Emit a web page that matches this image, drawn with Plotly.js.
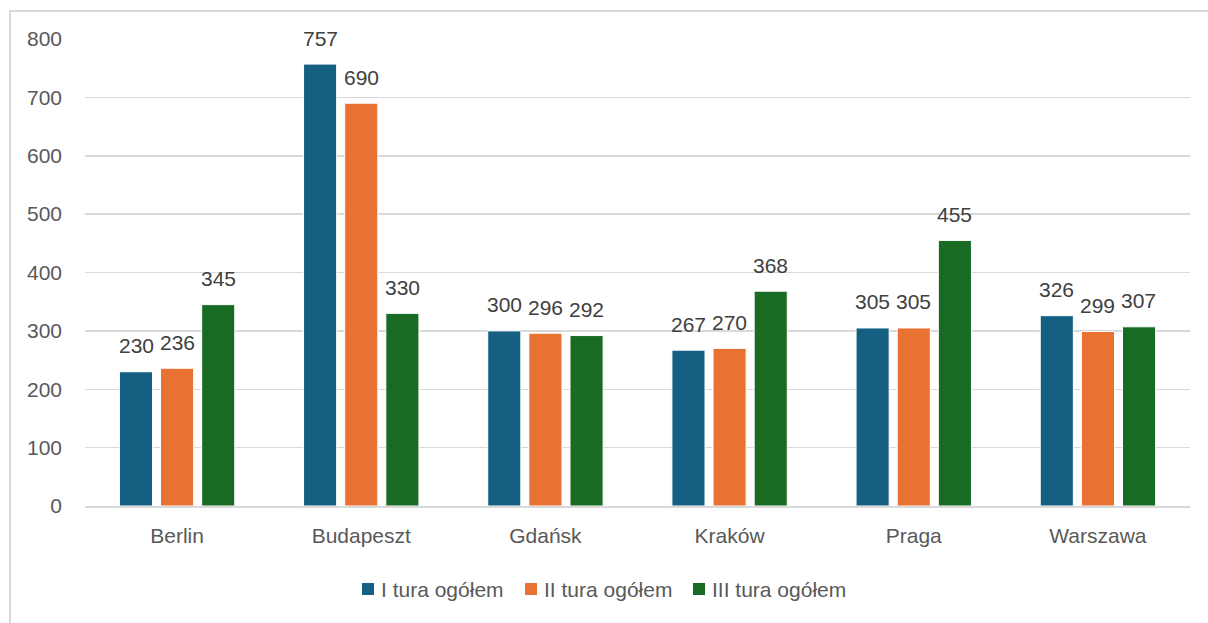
<!DOCTYPE html>
<html>
<head>
<meta charset="utf-8">
<script src="https://cdn.plot.ly/plotly-3.0.1.min.js"></script>
<style>
  html, body { margin: 0; padding: 0; background: #fff; overflow: hidden; }
  #chart { width: 1208px; height: 623px; }
  #frame { position: absolute; left: 9px; top: 10px; width: 1400px; height: 800px;
           border-left: 2px solid #d9d9d9; border-top: 2px solid #d9d9d9; pointer-events: none; }
</style>
</head>
<body>
<div id="chart"></div>
<div id="frame"></div>
<script>
const categories = ["Berlin", "Budapeszt", "Gdańsk", "Kraków", "Praga", "Warszawa"];
const seriesNames = ["I tura ogółem", "II tura ogółem", "III tura ogółem"];
const tura1 = [230, 757, 300, 267, 305, 326];
const tura2 = [236, 690, 296, 270, 305, 299];
const tura3 = [345, 330, 292, 368, 455, 307];
const yTicks = [0, 100, 200, 300, 400, 500, 600, 700, 800];

const colors = ["#156082", "#E97132", "#196B24"];
const seriesValues = [tura1, tura2, tura3];
const FONT = "Liberation Sans, Arial, sans-serif";
const FS = 21;

const W = 1208, H = 623;
const M = { l: 85, r: 18, t: 39, b: 117 };
const PW = W - M.l - M.r, PH = H - M.t - M.b;
const px2x = p => (p - M.l) / PW;
const py2y = p => (M.t + PH - p) / PH;

const traces = seriesValues.map((vals, j) => ({
  type: "bar",
  name: seriesNames[j],
  x: categories,
  y: vals,
  marker: { color: colors[j], line: { color: "#ffffff", width: 1 } },
  hoverinfo: "x+y+name"
}));

const annotations = [];
const shapes = [];
seriesValues.forEach((vals, j) => {
  vals.forEach((v, i) => {
    annotations.push({
      x: i, y: v, xref: "x", yref: "y",
      text: String(v), showarrow: false,
      xanchor: "center", yanchor: "middle",
      xshift: (j - 1) * 41, yshift: 26,
      font: { family: FONT, size: FS, color: "#404040" }
    });
  });
});

// custom legend (square + label), laid out like the original
const legendStarts = [362, 525, 693];
const legY = 589, sq = 12;
seriesNames.forEach((name, j) => {
  const x0 = legendStarts[j];
  shapes.push({
    type: "rect", xref: "paper", yref: "paper",
    x0: px2x(x0), x1: px2x(x0 + sq), y0: py2y(legY - sq / 2), y1: py2y(legY + sq / 2),
    fillcolor: colors[j], line: { width: 0 }
  });
  annotations.push({
    xref: "paper", yref: "paper", x: px2x(x0 + sq + 5), y: py2y(legY),
    xanchor: "left", yanchor: "middle", showarrow: false,
    text: name, font: { family: FONT, size: FS, color: "#595959" }
  });
});

const layout = {
  width: W, height: H,
  margin: M,
  paper_bgcolor: "#ffffff", plot_bgcolor: "#ffffff",
  barmode: "group", bargap: 0.33, bargroupgap: 0.195,
  font: { family: FONT, size: FS, color: "#595959" },
  xaxis: {
    type: "category",
    showgrid: false, showline: true, linecolor: "#d9d9d9", linewidth: 1.5,
    ticks: "", tickfont: { family: FONT, size: FS, color: "#595959" },
    ticklabelstandoff: 10
  },
  yaxis: {
    range: [0, 800], tickvals: yTicks, ticktext: yTicks.map(String),
    showgrid: true, gridcolor: "#d9d9d9", gridwidth: 1.5,
    zeroline: false, showline: false, ticks: "",
    tickfont: { family: FONT, size: FS, color: "#595959" },
    ticklabelstandoff: 22
  },
  showlegend: false,
  shapes: shapes,
  annotations: annotations
};

Plotly.newPlot("chart", traces, layout, { displayModeBar: false, staticPlot: true });
</script>
</body>
</html>
